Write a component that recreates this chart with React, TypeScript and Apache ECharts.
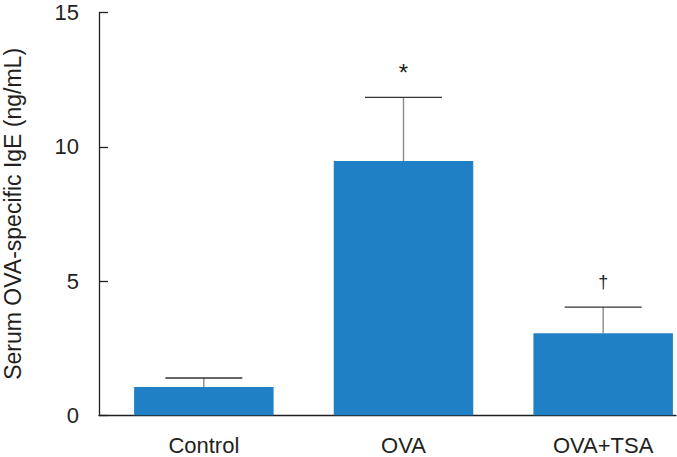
import React, { useEffect, useRef } from "react";
import * as echarts from "echarts";

const categories = ["Control", "OVA", "OVA+TSA"];
const means = [1.05, 9.47, 3.06];
const errors = [0.34, 2.37, 0.97];
const marks = ["", "*", "†"];
const yTicks = { min: 0, max: 15, interval: 5 };

const FONT = '"Liberation Sans", Arial, Helvetica, sans-serif';
const INK = "#231f20";

export default function App() {
  const ref = useRef<HTMLDivElement>(null);
  useEffect(() => {
    if (!ref.current) return;
    const chart = echarts.init(ref.current, undefined, { renderer: "svg" });
    const option: any = {
      animation: false,
      backgroundColor: "#ffffff",
      grid: [
        { left: 99, width: 577, top: 12.5, height: 402.8, outerBoundsMode: "none", containLabel: false },
        { left: 104, width: 599, top: 12.5, height: 402.8, outerBoundsMode: "none", containLabel: false },
      ],
      xAxis: [
        {
          gridIndex: 0,
          type: "value",
          min: 0,
          max: 1,
          axisLine: { show: true, lineStyle: { color: INK, width: 1.3 } },
          axisTick: { show: false },
          axisLabel: { show: false },
          splitLine: { show: false },
        },
        {
          gridIndex: 1,
          type: "category",
          data: categories,
          axisLine: { show: false },
          axisTick: { show: false },
          axisLabel: {
            margin: 21,
            fontSize: 22,
            lineHeight: 19,
            fontFamily: FONT,
            color: INK,
          },
        },
      ],
      yAxis: [
        {
          gridIndex: 0,
          type: "value",
          min: yTicks.min,
          max: yTicks.max,
          interval: yTicks.interval,
          name: "Serum OVA-specific IgE (ng/mL)",
          nameLocation: "middle",
          nameRotate: 90,
          nameGap: 75,
          nameTextStyle: { fontSize: 23, fontFamily: FONT, color: INK },
          axisLine: { show: true, lineStyle: { color: INK, width: 1.3 } },
          axisTick: { show: true, inside: true, length: 9, lineStyle: { color: INK, width: 1.3 } },
          axisLabel: { margin: 20, fontSize: 22, fontFamily: FONT, color: INK },
          splitLine: { show: false },
        },
        {
          gridIndex: 1,
          type: "value",
          min: yTicks.min,
          max: yTicks.max,
          interval: yTicks.interval,
          show: false,
          splitLine: { show: false },
        },
      ],
      series: [
        {
          type: "bar",
          xAxisIndex: 1,
          yAxisIndex: 1,
          data: means,
          barWidth: 139.5,
          itemStyle: { color: "#1f80c6" },
        },
        {
          type: "custom",
          xAxisIndex: 1,
          yAxisIndex: 1,
          data: means.map((m, i) => [i, m, errors[i]]),
          renderItem: (params: any, api: any) => {
            const i = api.value(0);
            const m = api.value(1);
            const e = api.value(2);
            const base = api.coord([i, m]);
            const top = api.coord([i, m + e]);
            const half = 38.5;
            const children: any[] = [
              {
                type: "line",
                shape: { x1: base[0], y1: base[1], x2: top[0], y2: top[1] },
                style: { stroke: "#8a8a8a", lineWidth: 1.4 },
              },
              {
                type: "line",
                shape: { x1: top[0] - half, y1: top[1], x2: top[0] + half, y2: top[1] },
                style: { stroke: "#333333", lineWidth: 1.4 },
              },
            ];
            const mk = marks[params.dataIndex];
            if (mk) {
              const isStar = mk === "*";
              children.push({
                type: "text",
                x: top[0],
                y: top[1] - (isStar ? 25 : 25),
                style: {
                  text: mk,
                  fontSize: isStar ? 24 : 18,
                  fontFamily: FONT,
                  fill: INK,
                  align: "center",
                  verticalAlign: "middle",
                },
              });
            }
            return { type: "group", children };
          },
          z: 3,
        },
      ],
    };
    chart.setOption(option);
    return () => chart.dispose();
  }, []);
  return (
    <div
      ref={ref}
      style={{ position: "fixed", left: 0, top: 0, width: 677, height: 457 }}
    />
  );
}
